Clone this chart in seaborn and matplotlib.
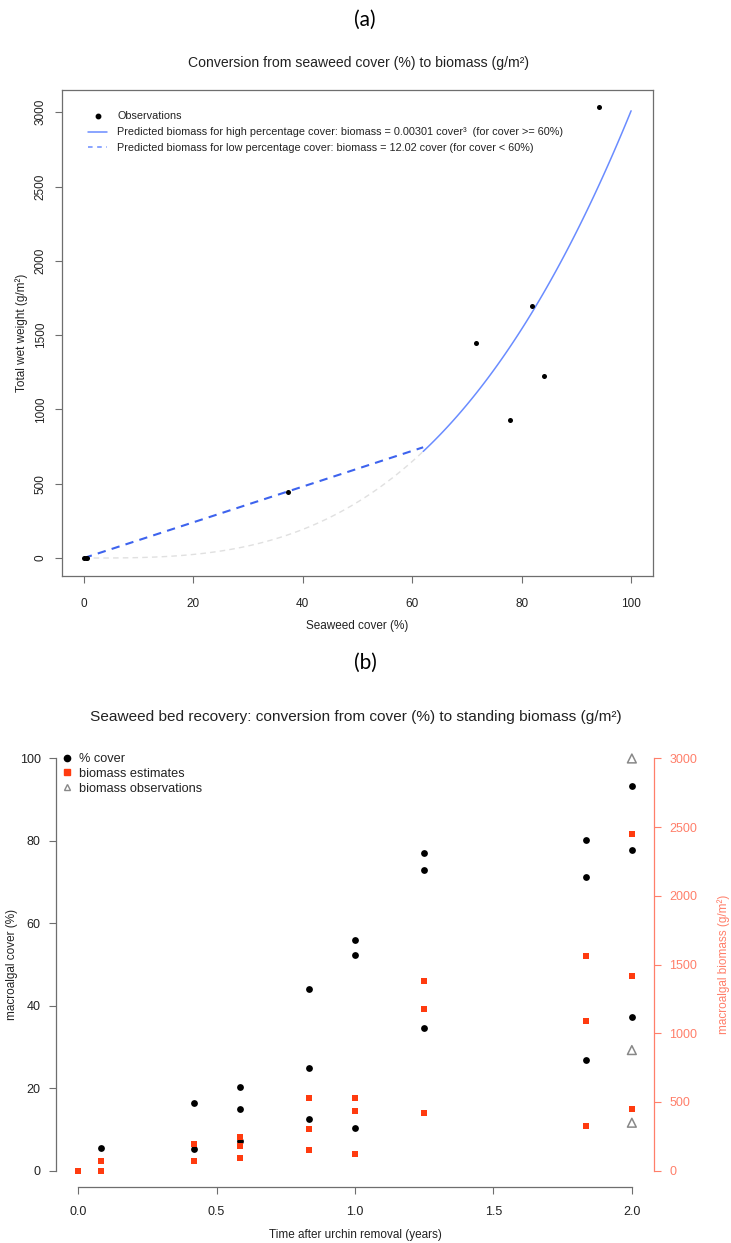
import numpy as np
import pandas as pd
import matplotlib
matplotlib.use("Agg")
import matplotlib.pyplot as plt
import seaborn as sns
from matplotlib.lines import Line2D

# ---------------- data: panel (a) ----------------
obs_cover = [0.0, 0.3, 0.6, 37.3, 71.6, 77.9, 81.8, 84.1, 94.1]
obs_biomass = [0, 0, 0, 445, 1448, 930, 1697, 1222, 3034]
high_coef = 0.00301     # biomass = 0.00301 cover^3
low_coef = 12.02        # biomass = 12.02 cover
switch_cover = 62
xticks_a = [0, 20, 40, 60, 80, 100]
yticks_a = [0, 500, 1000, 1500, 2000, 2500, 3000]

# ---------------- data: panel (b) ----------------
cover_time = [0.083, 0.417, 0.417, 0.583, 0.583, 0.583, 0.833, 0.833, 0.833,
              1.0, 1.0, 1.0, 1.25, 1.25, 1.25, 1.833, 1.833, 1.833, 2.0, 2.0, 2.0]
cover_pct = [5.5, 16.3, 5.3, 20.2, 15.0, 7.2, 44.0, 25.0, 12.5,
             56.0, 52.2, 10.3, 77.0, 73.0, 34.5, 80.3, 71.3, 26.8, 93.3, 77.8, 37.3]
est_time = [0.0, 0.083, 0.083, 0.417, 0.417, 0.583, 0.583, 0.583, 0.833, 0.833, 0.833,
            1.0, 1.0, 1.0, 1.25, 1.25, 1.25, 1.833, 1.833, 1.833, 2.0, 2.0, 2.0]
est_biomass = [0, 66, 0, 195, 70, 243, 182, 88, 530, 302, 151,
               530, 430, 122, 1380, 1176, 416, 1560, 1091, 323, 2449, 1419, 450]
obs_time_b = [2.0, 2.0, 2.0]
obs_biomass_b = [3000, 877, 348]
xticks_b = [0.0, 0.5, 1.0, 1.5, 2.0]
xticklabels_b = ["0.0", "0.5", "1.0", "1.5", "2.0"]
yticks_b = [0, 20, 40, 60, 80, 100]
yticks_b2 = [0, 500, 1000, 1500, 2000, 2500, 3000]

# ---------------- style ----------------
sns.set_theme(style="white")
plt.rcParams['font.family'] = ['Liberation Sans', 'DejaVu Sans']
TXT = "#222222"
AX = "#6e6e6e"
SALMON = "#ff7f6a"
RED = "#ff3b0f"

W, H = 731, 1243
fig = plt.figure(figsize=(W / 100, H / 100), dpi=100)

def fx(px):
    return px / W

def fy(py):
    return 1 - py / H

# ================= panel (a) =================
L, R, T, B = 62, 653, 90, 576
ax = fig.add_axes([fx(L), fy(B), (R - L) / W, (B - T) / H])
ax.set_xlim(-4, 104)
ax.set_ylim(-121, 3150)

c_low = np.linspace(0, switch_cover, 100)
c_high = np.linspace(switch_cover, 100, 100)
df_ghost = pd.DataFrame({"cover": c_low, "biomass": high_coef * c_low ** 3})
df_low = pd.DataFrame({"cover": c_low, "biomass": low_coef * c_low})
df_high = pd.DataFrame({"cover": c_high, "biomass": high_coef * c_high ** 3})

sns.lineplot(data=df_ghost, x="cover", y="biomass", ax=ax, color="#e0e0e0",
             linewidth=1.0, linestyle=(0, (4, 3)), sort=False)
sns.lineplot(data=df_low, x="cover", y="biomass", ax=ax, color="#3d63ee",
             linewidth=1.5, linestyle=(0, (4, 3)), sort=False)
sns.lineplot(data=df_high, x="cover", y="biomass", ax=ax, color="#6a8cff",
             linewidth=1.1, sort=False)
sns.scatterplot(x=obs_cover, y=obs_biomass, ax=ax, color="black", s=13,
                linewidth=0, zorder=5)

ax.set_xticks(xticks_a)
ax.set_yticks(yticks_a)
ax.set_yticklabels([str(v) for v in yticks_a], rotation=90, va="center")
ax.tick_params(axis="both", direction="out", length=5, width=0.8, color=AX,
               labelsize=8.5, labelcolor=TXT, left=True, bottom=True)
ax.tick_params(axis="x", pad=11)
ax.tick_params(axis="y", pad=6)
for s in ax.spines.values():
    s.set_visible(True)
    s.set_color(AX)
    s.set_linewidth(0.9)

ax.set_xlabel("Seaweed cover (%)", fontsize=8.5, color=TXT)
ax.xaxis.set_label_coords(0.5, (B - 626) / (B - T))
ax.xaxis.label.set_va("center")
ax.set_ylabel("Total wet weight (g/m²)", fontsize=8.5, color=TXT)
ax.yaxis.set_label_coords((22 - L) / (R - L), 0.5)
ax.yaxis.label.set_va("center")

handles_a = [
    Line2D([], [], marker="o", color="black", linestyle="none", markersize=3.2),
    Line2D([], [], color="#6a8cff", linewidth=1.1),
    Line2D([], [], color="#6a8cff", linewidth=1.1, linestyle=(0, (3, 3))),
]
labels_a = [
    "Observations",
    "Predicted biomass for high percentage cover: biomass = 0.00301 cover³  (for cover >= 60%)",
    "Predicted biomass for low percentage cover: biomass = 12.02 cover (for cover < 60%)",
]
leg = ax.legend(handles_a, labels_a, loc="upper left", frameon=False,
                fontsize=7.8, handlelength=1.75, handletextpad=0.9,
                labelspacing=0.55, borderaxespad=0,
                bbox_to_anchor=((84 - L) / (R - L), (B - 107) / (B - T)))
for t in leg.get_texts():
    t.set_color(TXT)

fig.text(fx(365), fy(20), "(a)", fontsize=15, family=["Lato", "DejaVu Sans"],
         ha="center", va="center", color="black")
fig.text(fx(358), fy(63), "Conversion from seaweed cover (%) to biomass (g/m²)",
         fontsize=10.1, ha="center", va="center", color=TXT)

# ================= panel (b) =================
L2, R2, T2, B2 = 56, 654, 742, 1187
bx = fig.add_axes([fx(L2), fy(B2), (R2 - L2) / W, (B2 - T2) / H])
bx.set_xlim(-0.08, 2.08)
bx.set_ylim(-4, 104)
bx2 = bx.twinx()
bx2.set_ylim(-120, 3120)

sns.scatterplot(x=cover_time, y=cover_pct, ax=bx, color="black", s=24,
                linewidth=0, zorder=5)
sns.scatterplot(x=est_time, y=est_biomass, ax=bx2, color=RED, marker="s",
                s=22, linewidth=0, zorder=5)
sns.scatterplot(x=obs_time_b, y=obs_biomass_b, ax=bx2, marker="^", s=40,
                facecolor="none", edgecolor="#888888", linewidth=1.1, zorder=5)

bx.set_xticks(xticks_b)
bx.set_xticklabels(xticklabels_b)
bx.set_yticks(yticks_b)
bx.tick_params(axis="both", direction="out", length=5, width=0.8, color=AX,
               labelsize=9, labelcolor=TXT, left=True, bottom=True)
bx.tick_params(axis="x", pad=9)
bx.tick_params(axis="y", pad=6)
for k in ["top", "right"]:
    bx.spines[k].set_visible(False)
bx.spines["left"].set_bounds(0, 100)
bx.spines["bottom"].set_bounds(0, 2)
for k in ["left", "bottom"]:
    bx.spines[k].set_color(AX)
    bx.spines[k].set_linewidth(0.9)

bx2.set_yticks(yticks_b2)
bx2.tick_params(axis="y", direction="out", length=5, width=0.8, color=SALMON,
                labelsize=9, labelcolor=SALMON, right=True, left=False, pad=6)
for k in ["top", "left", "bottom"]:
    bx2.spines[k].set_visible(False)
bx2.spines["right"].set_bounds(0, 3000)
bx2.spines["right"].set_color(SALMON)
bx2.spines["right"].set_linewidth(0.9)
bx2.grid(False)
bx.grid(False)

bx.set_xlabel("Time after urchin removal (years)", fontsize=8.5, color=TXT)
bx.xaxis.set_label_coords(0.5, (B2 - 1235) / (B2 - T2))
bx.xaxis.label.set_va("center")
bx.set_ylabel("macroalgal cover (%)", fontsize=8.5, color=TXT)
bx.yaxis.set_label_coords((12 - L2) / (R2 - L2), 0.5)
bx.yaxis.label.set_va("center")
bx2.set_ylabel("macroalgal biomass (g/m²)", fontsize=8.5, color=SALMON)
bx2.yaxis.set_label_coords((724 - L2) / (R2 - L2), 0.5)
bx2.yaxis.label.set_va("center")

handles_b = [
    Line2D([], [], marker="o", color="black", linestyle="none", markersize=4.5),
    Line2D([], [], marker="s", color=RED, linestyle="none", markersize=4.2),
    Line2D([], [], marker="^", markerfacecolor="none", markeredgecolor="#888888",
           linestyle="none", markersize=5, markeredgewidth=1.0),
]
labels_b = ["% cover", "biomass estimates", "biomass observations"]
leg2 = bx2.legend(handles_b, labels_b, loc="upper left", frameon=False,
                  fontsize=9.2, handlelength=0.8, handletextpad=0.5,
                  labelspacing=0.22, borderaxespad=0,
                  bbox_to_anchor=((57 - L2) / (R2 - L2), (B2 - 748) / (B2 - T2)))
for t in leg2.get_texts():
    t.set_color(TXT)

fig.text(fx(365), fy(663), "(b)", fontsize=15, family=["Lato", "DejaVu Sans"],
         ha="center", va="center", color="black")
fig.text(fx(356), fy(717),
         "Seaweed bed recovery: conversion from cover (%) to standing biomass (g/m²)",
         fontsize=11.1, ha="center", va="center", color=TXT)

fig.savefig("out.png", dpi=100)
